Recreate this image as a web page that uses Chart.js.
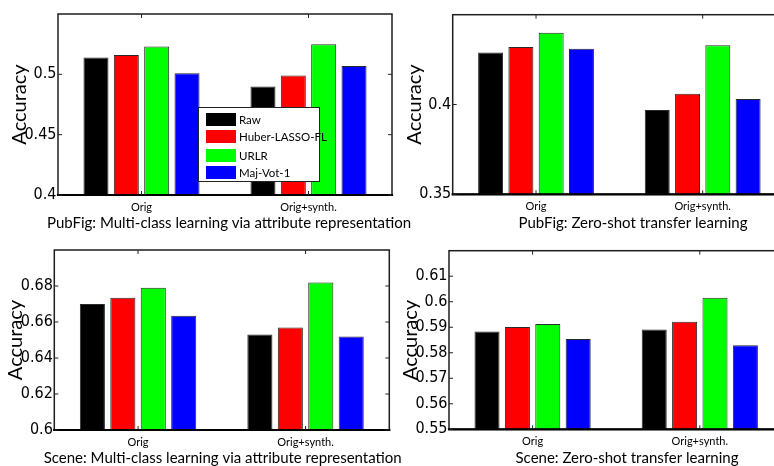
<!DOCTYPE html>
<html><head><meta charset="utf-8">
<script src="https://cdn.jsdelivr.net/npm/chart.js@4.4.0/dist/chart.umd.min.js"></script>
<style>
html,body{margin:0;padding:0;width:774px;height:466px;overflow:hidden;background:#fff;}
#wrap{position:relative;width:774px;height:466px;overflow:hidden;background:#fff;}
canvas{position:absolute;}
#legend{position:absolute;left:198px;top:107px;width:122px;height:75px;border:1px solid #222;background:#fff;z-index:5;box-sizing:border-box;font-family:Lato,sans-serif;font-size:11.5px;color:#000;}
#legend .row{position:absolute;left:7px;height:13px;display:flex;align-items:center;white-space:nowrap;}
#legend .sw{width:30px;height:13px;margin-right:3px;}
</style></head><body><div id="wrap"></div>
<script>
// ---------- data ----------
const categories = ['Orig', 'Orig+synth.'];
const seriesNames = ['Raw', 'Huber-LASSO-FL', 'URLR', 'Maj-Vot-1'];
const seriesColors = ['#000000', '#ff0000', '#00ff00', '#0000ff'];
const yAxisTitle = 'Accuracy';

const pubfigMultiTitle = 'PubFig: Multi-class learning via attribute representation';
const pubfigMultiRaw   = [0.514, 0.490];
const pubfigMultiHuber = [0.516, 0.499];
const pubfigMultiURLR  = [0.523, 0.525];
const pubfigMultiMaj   = [0.501, 0.507];
const pubfigMultiTicks = [0.4, 0.45, 0.5];
const pubfigMultiRange = [0.4, 0.55];

const pubfigZeroTitle = 'PubFig: Zero-shot transfer learning';
const pubfigZeroRaw   = [0.429, 0.397];
const pubfigZeroHuber = [0.432, 0.406];
const pubfigZeroURLR  = [0.440, 0.433];
const pubfigZeroMaj   = [0.431, 0.403];
const pubfigZeroTicks = [0.35, 0.4];
const pubfigZeroRange = [0.35, 0.45];

const sceneMultiTitle = 'Scene: Multi-class learning via attribute representation';
const sceneMultiRaw   = [0.670, 0.653];
const sceneMultiHuber = [0.6735, 0.657];
const sceneMultiURLR  = [0.679, 0.682];
const sceneMultiMaj   = [0.6635, 0.652];
const sceneMultiTicks = [0.6, 0.62, 0.64, 0.66, 0.68];
const sceneMultiRange = [0.6, 0.7];

const sceneZeroTitle = 'Scene: Zero-shot transfer learning';
const sceneZeroRaw   = [0.5883, 0.5891];
const sceneZeroHuber = [0.5901, 0.5922];
const sceneZeroURLR  = [0.5913, 0.6016];
const sceneZeroMaj   = [0.5854, 0.5829];
const sceneZeroTicks = [0.55, 0.56, 0.57, 0.58, 0.59, 0.6, 0.61];
const sceneZeroRange = [0.55, 0.62];

// ---------- layout (pixel boxes of each plot area) ----------
const panels = [
  {title: pubfigMultiTitle, series: [pubfigMultiRaw, pubfigMultiHuber, pubfigMultiURLR, pubfigMultiMaj], ticks: pubfigMultiTicks, range: pubfigMultiRange,
   box: {L: 58, T: 14, R: 392, B: 195}, titleCx: 229, canvasTop: 0, canvasRight: 420},
  {title: pubfigZeroTitle, series: [pubfigZeroRaw, pubfigZeroHuber, pubfigZeroURLR, pubfigZeroMaj], ticks: pubfigZeroTicks, range: pubfigZeroRange,
   box: {L: 452.7, T: 14.7, R: 786, B: 194.3}, titleCx: 633, canvasTop: 0, canvasRight: 774},
  {title: sceneMultiTitle, series: [sceneMultiRaw, sceneMultiHuber, sceneMultiURLR, sceneMultiMaj], ticks: sceneMultiTicks, range: sceneMultiRange,
   box: {L: 54.3, T: 250, R: 389.3, B: 430}, titleCx: 222.7, canvasTop: 236, canvasRight: 420},
  {title: sceneZeroTitle, series: [sceneZeroRaw, sceneZeroHuber, sceneZeroURLR, sceneZeroMaj], ticks: sceneZeroTicks, range: sceneZeroRange,
   box: {L: 449, T: 250.7, R: 783.4, B: 429.3}, titleCx: 627, canvasTop: 236, canvasRight: 774},
];

const FONT_SANS = "Lato, 'Open Sans', sans-serif";
const FONT_NUM = "'Liberation Sans Narrow', 'DejaVu Sans Condensed', sans-serif";
const X_AXIS_H = 19.5;
const TITLE_SIZE = 15;
const TITLE_OFFSET = 28.5;
const YTITLE_SIZE = 20;
const YTITLE_LH = YTITLE_SIZE * 1.2;

// lets the plot area run past the canvas/page edge (the axes are cut off there)
const areaPlugin = {
  id: 'area',
  afterLayout(chart, args, opts) {
    const ca = chart.chartArea;
    ca.right = opts.right;
    ca.width = ca.right - ca.left;
    const xs = chart.scales.x;
    xs.right = opts.right;
    xs.width = xs.right - xs.left;
    xs.configure();
  }
};

const framePlugin = {
  id: 'frame',
  afterDatasetsDraw(chart) {
    const {ctx, chartArea: {left, top, right, bottom}} = chart;
    const ys = chart.scales.y, xs = chart.scales.x;
    ctx.save();
    ctx.lineCap = 'square';
    ctx.strokeStyle = '#1e1e1e';
    ctx.lineWidth = 1.5;
    ctx.strokeRect(left, top, right - left, bottom - top);
    ctx.lineWidth = 2.2;
    ctx.strokeStyle = '#000';
    ctx.beginPath(); ctx.moveTo(left, bottom); ctx.lineTo(right, bottom); ctx.stroke();
    ctx.lineWidth = 1;
    ctx.lineCap = 'butt';
    ctx.strokeStyle = '#222';
    const tl = 4;
    ctx.beginPath();
    ys.ticks.forEach(t => {
      const py = ys.getPixelForValue(t.value);
      ctx.moveTo(left, py); ctx.lineTo(left + tl, py);
      ctx.moveTo(right, py); ctx.lineTo(right - tl, py);
    });
    xs.ticks.forEach((t, i) => {
      const px = xs.getPixelForTick(i);
      ctx.moveTo(px, top); ctx.lineTo(px, top + tl);
      ctx.moveTo(px, bottom); ctx.lineTo(px, bottom - tl);
    });
    ctx.stroke();
    ctx.restore();
  }
};

// panel caption below the x axis (MATLAB-style xlabel)
const captionPlugin = {
  id: 'caption',
  afterDraw(chart, args, opts) {
    const ctx = chart.ctx;
    ctx.save();
    ctx.font = `normal ${opts.size}px ${opts.family}`;
    ctx.fillStyle = '#000';
    ctx.textAlign = 'center';
    ctx.textBaseline = 'middle';
    ctx.fillText(opts.text, opts.x, chart.chartArea.bottom + opts.offset);
    ctx.restore();
  }
};

const wrap = document.getElementById('wrap');

panels.forEach((p) => {
  const {L, T, R, B} = p.box;
  const cLeft = Math.floor(L - 60);
  const yAxisW = L - cLeft;
  const cRight = p.canvasRight;
  const cWidth = cRight - cLeft;
  const padTop = T - p.canvasTop;
  const cHeight = Math.min(466 - p.canvasTop, Math.ceil(B + X_AXIS_H + 22 - p.canvasTop));
  const padBottom = cHeight - (B + X_AXIS_H - p.canvasTop);
  const yTitleCenter = (L - 38.5) - cLeft;

  const cv = document.createElement('canvas');
  cv.width = cWidth; cv.height = cHeight;
  cv.style.left = cLeft + 'px'; cv.style.top = p.canvasTop + 'px';
  cv.style.width = cWidth + 'px'; cv.style.height = cHeight + 'px';
  wrap.appendChild(cv);

  new Chart(cv, {
    type: 'bar',
    data: {
      labels: categories,
      datasets: p.series.map((vals, i) => ({
        label: seriesNames[i],
        data: vals,
        backgroundColor: seriesColors[i],
        borderColor: '#2a2a2a',
        borderWidth: 1,
        categoryPercentage: 0.727,
        barPercentage: 0.824
      }))
    },
    options: {
      responsive: false,
      animation: false,
      events: [],
      layout: {padding: {left: 0, right: 0, top: padTop, bottom: padBottom}},
      plugins: {
        legend: {display: false},
        tooltip: {enabled: false},
        title: {display: false},
        area: {right: R - cLeft},
        caption: {text: p.title, x: p.titleCx - cLeft, offset: TITLE_OFFSET, size: TITLE_SIZE, family: FONT_SANS}
      },
      scales: {
        x: {
          type: 'category', offset: true,
          grid: {display: false, drawTicks: false},
          border: {display: false},
          ticks: {color: '#000', font: {family: FONT_SANS, size: 11}, padding: 5.4, maxRotation: 0, autoSkip: false},
          afterFit(s) { s.height = X_AXIS_H; }
        },
        y: {
          type: 'linear', position: 'left', min: p.range[0], max: p.range[1],
          grid: {display: false, drawTicks: false},
          border: {display: false},
          afterBuildTicks(s) { s.ticks = p.ticks.map(v => ({value: v})); },
          ticks: {color: '#000', font: {family: FONT_NUM, size: 16}, padding: 1.5,
                  callback: v => String(+(+v).toFixed(4))},
          title: {display: true, text: yAxisTitle, color: '#000',
                  font: {family: FONT_SANS, size: YTITLE_SIZE, lineHeight: 1.2},
                  padding: {top: yTitleCenter - YTITLE_LH / 2, bottom: 0}},
          afterFit(s) { s.width = yAxisW; }
        }
      }
    },
    plugins: [areaPlugin, framePlugin, captionPlugin]
  });
});

// legend (top-left panel), built from the series arrays
const lg = document.createElement('div');
lg.id = 'legend';
const rowCenters = [11, 28.5, 47, 64];
seriesNames.forEach((name, i) => {
  const row = document.createElement('div');
  row.className = 'row';
  row.style.top = (rowCenters[i] - 6.5) + 'px';
  const sw = document.createElement('span');
  sw.className = 'sw';
  sw.style.background = seriesColors[i];
  const tx = document.createElement('span');
  tx.textContent = name;
  row.appendChild(sw); row.appendChild(tx);
  lg.appendChild(row);
});
wrap.appendChild(lg);
</script>
</body></html>
